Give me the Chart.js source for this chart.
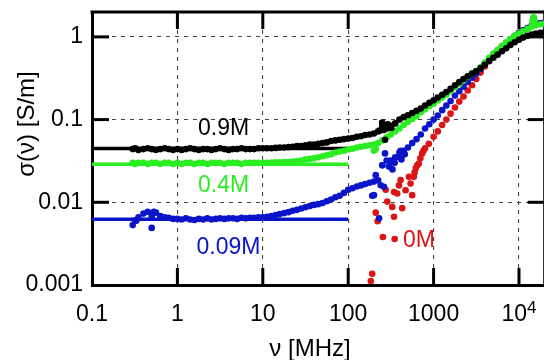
<!DOCTYPE html>
<html>
<head>
<meta charset="utf-8">
<script src="https://cdn.jsdelivr.net/npm/chart.js@4.4.1/dist/chart.umd.min.js"></script>
<style>
  html, body { margin: 0; padding: 0; background: #fff; overflow: hidden; }
  #wrap { width: 544px; height: 360px; overflow: hidden; }
</style>
</head>
<body>
<div id="wrap"><canvas id="chart" width="548" height="360"></canvas></div>
<script>
// frequencies (MHz) shared by the three salt solutions
const freq = [
  0.3, 0.32, 0.35, 0.4, 0.45, 0.5, 0.56, 0.63, 0.71, 0.79, 0.89,
  1, 1.12, 1.26, 1.41, 1.58, 1.78, 2, 2.24, 2.51, 2.82, 3.16, 3.55, 3.98, 4.47, 5.01, 5.62, 6.31, 7.08, 7.94, 8.91,
  10, 11.2, 12.6, 14.1, 15.8, 17.8, 20, 22.4, 25.1, 28.2, 31.6, 35.5, 39.8, 44.7, 50.1, 56.2, 63.1, 70.8, 79.4, 89.1,
  100, 112, 126, 141, 158, 178, 200, 224, 251, 282, 316, 355, 398, 447, 501, 562, 631, 708, 794, 891,
  1000, 1120, 1260, 1410, 1580, 1780, 2000, 2240, 2510, 2820, 3160, 3550, 3980, 4470, 5010, 5620, 6310, 7080, 7940, 8910,
  10000, 11200, 12600, 14100, 15800, 17800, 20000
];

// conductivity (S/m), 0.9M
const sigma09 = [
  0.044, 0.045, 0.043, 0.044, 0.045, 0.044, 0.043, 0.044, 0.045, 0.044, 0.043,
  0.044, 0.043, 0.044, 0.045, 0.044, 0.043, 0.044, 0.044, 0.043, 0.044, 0.045, 0.044, 0.043, 0.044, 0.044, 0.045, 0.044, 0.044, 0.044, 0.045,
  0.045, 0.045, 0.045, 0.0455, 0.046, 0.046, 0.0465, 0.047, 0.048, 0.048, 0.049, 0.050, 0.050, 0.051, 0.052, 0.053, 0.055, 0.056, 0.057, 0.058,
  0.059, 0.060, 0.062, 0.063, 0.065, 0.066, 0.068, 0.072, 0.085, 0.078, 0.084, 0.090, 0.100, 0.107, 0.113, 0.120, 0.128, 0.136, 0.148, 0.160,
  0.171, 0.185, 0.200, 0.215, 0.235, 0.260, 0.284, 0.310, 0.335, 0.360, 0.385, 0.420, 0.460, 0.510, 0.560, 0.610, 0.670, 0.730, 0.800, 0.860,
  0.925, 0.980, 1.030, 1.070, 1.100, 1.120, 1.140
];
const extraFreq09 = [236, 250, 262, 270, 290, 320];
const extraSigma09 = [0.074, 0.092, 0.075, 0.057, 0.088, 0.079];

// 0.4M
const sigma04 = [
  0.030, 0.029, 0.030, 0.030, 0.029, 0.030, 0.030, 0.029, 0.030, 0.030, 0.029,
  0.030, 0.029, 0.030, 0.030, 0.029, 0.030, 0.030, 0.029, 0.030, 0.030, 0.030, 0.029, 0.030, 0.030, 0.030, 0.029, 0.030, 0.030, 0.030, 0.030,
  0.030, 0.030, 0.0302, 0.0305, 0.0305, 0.0306, 0.0307, 0.031, 0.0315, 0.032, 0.033, 0.0335, 0.034, 0.035, 0.036, 0.037, 0.038, 0.040, 0.041, 0.042,
  0.0435, 0.0445, 0.046, 0.047, 0.048, 0.049, 0.050, 0.052, 0.056, 0.061, 0.066, 0.072, 0.078, 0.086, 0.094, 0.102, 0.110, 0.123, 0.133, 0.145,
  0.156, 0.170, 0.185, 0.200, 0.220, 0.245, 0.270, 0.300, 0.330, 0.360, 0.390, 0.430, 0.490, 0.560, 0.630, 0.700, 0.780, 0.860, 0.940, 1.030,
  1.100, 1.170, 1.250, 1.330, 1.380, 1.420, 1.450
];
const extraFreq04 = [200, 210, 14400, 14800, 15200];
const extraSigma04 = [0.042, 0.044, 1.55, 1.72, 1.60];

// 0.09M
const sigma009 = [
  0.0053, 0.0060, 0.0066, 0.0073, 0.0077, 0.0068, 0.0075, 0.0068, 0.0066, 0.0065, 0.0063,
  0.0063, 0.0062, 0.0064, 0.0062, 0.0061, 0.0063, 0.0062, 0.0064, 0.0062, 0.0063, 0.0064, 0.0063, 0.0064, 0.0064, 0.0063, 0.0065, 0.0064, 0.0065, 0.0065, 0.0066,
  0.0066, 0.0067, 0.0068, 0.0070, 0.0072, 0.0074, 0.0076, 0.0079, 0.0081, 0.0084, 0.0087, 0.0090, 0.0093, 0.0095, 0.0098, 0.0103, 0.0108, 0.0115, 0.0120, 0.0130,
  0.0142, 0.0148, 0.0155, 0.0160, 0.0166, 0.0172, 0.0178, 0.0185, 0.0280, 0.0320, 0.0300, 0.0350, 0.0400, 0.0420, 0.0460, 0.0520, 0.0580, 0.0660, 0.0780, 0.0880,
  0.100, 0.112, 0.130, 0.148, 0.168, 0.195, 0.220, 0.250, 0.285, 0.320, 0.360, 0.410, 0.470, 0.540, 0.610, 0.680, 0.760, 0.840, 0.930, 1.030,
  1.120, 1.200, 1.280, 1.360, 1.420, 1.460, 1.480
];
const extraFreq009 = [0.33, 0.5, 0.53, 191, 200, 210, 230, 240, 251, 262, 270, 300, 314, 330, 350, 393, 411, 420, 460, 14800];
const extraSigma009 = [0.0060, 0.0049, 0.0077, 0.0120, 0.0122, 0.0213, 0.0064, 0.0161, 0.0280, 0.0154, 0.0390, 0.0270, 0.0320, 0.0250, 0.0300, 0.0350, 0.0420, 0.0330, 0.0380, 1.70];

// 0M (pure water), own frequencies
const freq0 = [184, 191, 210, 221, 255, 275, 287, 328, 344, 344, 350, 375, 393, 411, 429, 470, 514, 537, 561, 587, 600, 620, 643, 672, 700, 735, 760, 794, 879,
  1000, 1120, 1260, 1410, 1580, 1780, 2000, 2240, 2510, 2820, 3160, 3550, 3980, 4470, 5010, 5620, 6310, 7080, 7940, 8910,
  10000, 11200, 12600, 14100, 15800, 17800, 20000];
const sigma0 = [0.00112, 0.00137, 0.0075, 0.0059, 0.0038, 0.0142, 0.0102, 0.0088, 0.0067, 0.0133, 0.0036, 0.0128, 0.0160, 0.0186, 0.0085, 0.0140, 0.0203, 0.0169, 0.0122, 0.0203, 0.023, 0.026, 0.028, 0.0294, 0.034, 0.039, 0.042, 0.045, 0.051,
  0.062, 0.072, 0.086, 0.100, 0.118, 0.140, 0.165, 0.190, 0.225, 0.260, 0.310, 0.370, 0.440, 0.510, 0.590, 0.670, 0.750, 0.830, 0.920, 1.020,
  1.120, 1.200, 1.280, 1.350, 1.420, 1.470, 1.500];

// DC conductivity levels, drawn as flat lines
const dcFreq = [0.1, 100];
const dcSigma = [0.0447, 0.0289, 0.00625];

// labels next to curves
const seriesNames = ['0.9M', '0.4M', '0.09M', '0M'];
const labelFreq = [3.47, 3.47, 3.97, 672];
const labelSigma = [0.0785, 0.0161, 0.00279, 0.00339];
const colors = ['#000000', '#2bee22', '#0a14c8', '#dc1414'];

const xTicks = [0.1, 1, 10, 100, 1000, 10000];
const xTickLabels = ['0.1', '1', '10', '100', '1000', '10'];
const xTickExponent = ['', '', '', '', '', '4'];
const yTicks = [0.001, 0.01, 0.1, 1];
const yTickLabels = ['0.001', '0.01', '0.1', '1'];
const xTitle = 'ν [MHz]';
const yTitle = 'σ(ν) [S/m]';

const FONT = '"Liberation Sans", Arial, Helvetica, sans-serif';
const TICK_LEN = 17;
const LABEL_PAD = 16;

function pts(xs, ys) {
  return xs.map((f, i) => ({ x: f, y: ys[i] }));
}

function dots(label, data, color, order) {
  return {
    label, data, order,
    backgroundColor: color, borderColor: color,
    pointRadius: 3.3, pointBorderWidth: 0, pointHoverRadius: 3.3,
    showLine: false
  };
}

function dcLine(level, color) {
  return {
    type: 'line',
    data: pts(dcFreq, dcFreq.map(() => level)),
    borderColor: color, borderWidth: 3.5,
    pointRadius: 0, showLine: true, fill: false, order: 5
  };
}

const decor = {
  id: 'decor',
  // frame and inward ticks go under the data, like the original
  beforeDatasetsDraw(chart) {
    const ctx = chart.ctx;
    const a = chart.chartArea;
    const x = chart.scales.x, y = chart.scales.y;
    ctx.save();
    ctx.fillStyle = '#000';
    ctx.fillRect(a.left - 1.5, a.top - 1.5, a.right - a.left + 3, 3);
    ctx.fillRect(a.right - 1.5, a.top - 1.5, 3, a.bottom - a.top + 3);
    xTicks.forEach(v => {
      const px = x.getPixelForValue(v);
      if (px > a.left + 2) {
        ctx.fillRect(px - 1.5, a.top, 3, TICK_LEN);
        ctx.fillRect(px - 1.5, a.bottom - TICK_LEN, 3, TICK_LEN);
      }
    });
    yTicks.forEach(v => {
      const py = y.getPixelForValue(v);
      if (py < a.bottom - 2) {
        ctx.fillRect(a.left, py - 1.5, TICK_LEN, 3);
        ctx.fillRect(a.right - TICK_LEN, py - 1.5, TICK_LEN, 3);
      }
    });
    ctx.restore();
  },
  afterDraw(chart) {
    const ctx = chart.ctx;
    const a = chart.chartArea;
    const x = chart.scales.x, y = chart.scales.y;
    ctx.save();
    ctx.font = '23px ' + FONT;
    ctx.textAlign = 'center';
    ctx.textBaseline = 'middle';
    seriesNames.forEach((name, i) => {
      ctx.fillStyle = colors[i];
      ctx.fillText(name, x.getPixelForValue(labelFreq[i]), y.getPixelForValue(labelSigma[i]));
    });
    // power-of-ten tick labels with a raised exponent
    ctx.fillStyle = '#000';
    const labelMid = a.bottom + LABEL_PAD + 23 * 1.2 / 2;
    xTickExponent.forEach((e, i) => {
      if (!e) return;
      const px = x.getPixelForValue(xTicks[i]) + 8;
      ctx.font = '23px ' + FONT;
      ctx.textAlign = 'right';
      ctx.textBaseline = 'middle';
      ctx.fillText(xTickLabels[i], px, labelMid);
      ctx.font = '17px ' + FONT;
      ctx.textAlign = 'left';
      ctx.textBaseline = 'alphabetic';
      ctx.fillText(e, px, labelMid - 2);
    });
    ctx.textAlign = 'center';
    ctx.textBaseline = 'middle';
    ctx.font = '24px ' + FONT;
    ctx.fillText(xTitle, 310, 349);
    ctx.translate(27, 124);
    ctx.rotate(-Math.PI / 2);
    ctx.fillText(yTitle, 0, 0);
    ctx.restore();
  }
};

const grid = { color: '#444', lineWidth: 1.1, drawTicks: false };

new Chart(document.getElementById('chart'), {
  type: 'scatter',
  data: {
    datasets: [
      dots('0.9M', pts(freq, sigma09).concat(pts(extraFreq09, extraSigma09)), colors[0], 1),
      dots('0.4M', pts(freq, sigma04).concat(pts(extraFreq04, extraSigma04)), colors[1], 2),
      dots('0.09M', pts(freq, sigma009).concat(pts(extraFreq009, extraSigma009)), colors[2], 3),
      dots('0M', pts(freq0, sigma0), colors[3], 4),
      dcLine(dcSigma[0], colors[0]),
      dcLine(dcSigma[1], colors[1]),
      dcLine(dcSigma[2], colors[2])
    ]
  },
  options: {
    responsive: false,
    animation: false,
    layout: { padding: { top: 12, right: 1, left: 0, bottom: 0 } },
    plugins: { legend: { display: false }, tooltip: { enabled: false } },
    scales: {
      x: {
        type: 'logarithmic', min: 0.1, max: 20000,
        afterBuildTicks: s => { s.ticks = xTicks.map(v => ({ value: v })); },
        afterFit: s => { s.height = 75; s.paddingLeft = 0; s.paddingRight = 0; },
        grid,
        border: { display: true, color: '#000', width: 3, dash: [4, 5] },
        ticks: {
          autoSkip: false, maxRotation: 0, padding: LABEL_PAD,
          color: '#000', font: { family: FONT, size: 23 },
          callback: (v, i) => xTickExponent[i] ? '' : xTickLabels[i]
        }
      },
      y: {
        type: 'logarithmic', min: 0.001, max: 2,
        afterBuildTicks: s => { s.ticks = yTicks.map(v => ({ value: v })); },
        afterFit: s => { s.width = 92; s.paddingTop = 0; s.paddingBottom = 0; },
        grid,
        border: { display: true, color: '#000', width: 3, dash: [4, 5] },
        ticks: {
          autoSkip: false, padding: 9,
          color: '#000', font: { family: FONT, size: 23 },
          callback: (v, i) => yTickLabels[i]
        }
      }
    }
  },
  plugins: [decor]
});
</script>
</body>
</html>
